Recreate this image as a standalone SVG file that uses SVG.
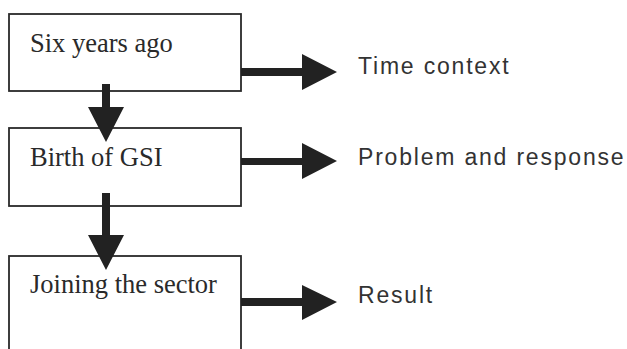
<svg xmlns="http://www.w3.org/2000/svg" width="627" height="349" viewBox="0 0 627 349">
<style>
.box{fill:#fff;stroke:#2a2a2a;stroke-width:1.8}
.lt{font-family:"Liberation Serif","Times New Roman",serif;font-size:26.5px;fill:#2a2a2a}
.rt{font-family:"Liberation Sans",Arial,sans-serif;font-size:23px;letter-spacing:1.8px;fill:#333}
.arr{fill:#222}
</style>
<rect width="627" height="349" fill="#fff"/>
<g id="node-six"><rect class="box" x="9" y="14" width="232" height="77"/><text class="lt" x="30" y="52">Six years ago</text></g>
<g id="node-birth"><rect class="box" x="9" y="128" width="232" height="78"/><text class="lt" x="30" y="166">Birth of GSI</text></g>
<g id="node-joining"><rect class="box" x="9" y="256" width="232" height="110"/><text class="lt" x="30" y="293">Joining the sector</text></g>
<g id="label-time"><text class="rt" x="358" y="74">Time context</text></g>
<g id="label-problem"><text class="rt" x="358" y="165">Problem and response</text></g>
<g id="label-result"><text class="rt" x="358" y="303">Result</text></g>
<g id="connectors">
<polygon class="arr" points="102,84 110,84 110,107 124,107 106,142 88,107 102,107"/>
<polygon class="arr" points="102,193 110,193 110,235 124,235 106,270 88,235 102,235"/>
<polygon class="arr" points="241,68 302,68 302,54 337,72 302,90 302,76 241,76"/>
<polygon class="arr" points="241,158 302,158 302,143 337,161 302,179 302,165 241,165"/>
<polygon class="arr" points="241,298 302,298 302,285 337,302 302,320 302,306 241,306"/>
</g>
</svg>
